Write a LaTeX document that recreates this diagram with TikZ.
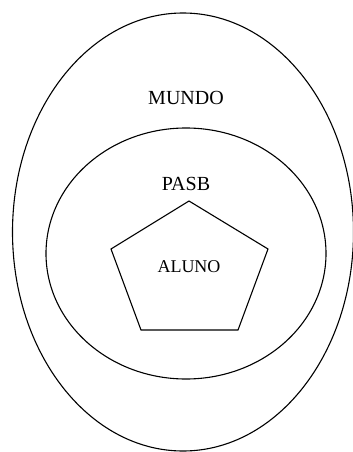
\documentclass[tikz,border=0pt]{standalone}
\usepackage{fontspec}
\setmainfont{Liberation Serif}
\usetikzlibrary{calc}
\tikzset{
  % Kontur chiziqlari
  setline/.style = {line width=1.1pt, draw=black},
  % Etiketlar
  setlab/.style  = {font=\fontsize{20}{24}\selectfont, inner sep=1pt},
  innerlab/.style= {font=\fontsize{18}{22}\selectfont, inner sep=1pt},
}
\begin{document}
\begin{tikzpicture}[x=1pt, y=-1pt]
  \useasboundingbox (0,0) rectangle (353,452);
  % Tashqi ellips (MUNDO)
  \draw[setline] (183,232) ellipse [x radius=170.5, y radius=219];
  % Ichki ellips (PASB)
  \draw[setline] (186,253.5) ellipse [x radius=140, y radius=125.5];
  % Beshburchak (ALUNO)
  \coordinate (P1) at (189,201);
  \coordinate (P2) at (268,249);
  \coordinate (P3) at (238,330);
  \coordinate (P4) at (141,330);
  \coordinate (P5) at (111,249);
  \draw[setline, line join=miter] (P1) -- (P2) -- (P3) -- (P4) -- (P5) -- cycle;
  % Etiketlar
  \node[setlab]   (mundo) at (186,98)  {MUNDO};
  \node[setlab]   (pasb)  at (186,184) {PASB};
  \node[innerlab] (aluno) at (189,267) {ALUNO};
\end{tikzpicture}
\end{document}
